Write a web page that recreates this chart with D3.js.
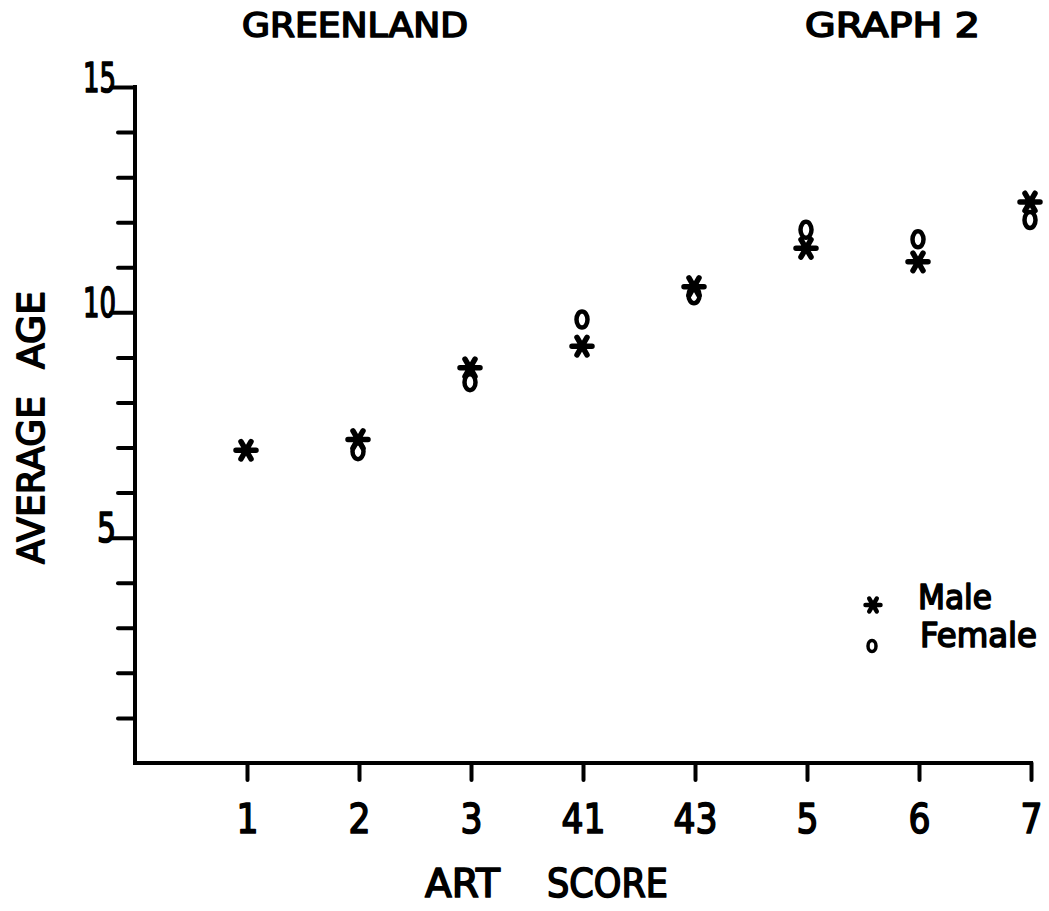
<!DOCTYPE html>
<html><head><meta charset="utf-8">
<script src="https://cdn.jsdelivr.net/npm/d3@7"></script>
<style>
body{margin:0;background:#fff;}
svg{display:block;background:#fff;}
.lbl{font-family:"DejaVu Sans",sans-serif;fill:#000;stroke:#000;stroke-width:1.7px;stroke-linejoin:round;}
</style></head><body>
<script>
// ---- data ----
const categories = ["1", "2", "3", "41", "43", "5", "6", "7"];
const maleAge    = [6.94, 7.18, 8.77, 9.25, 10.57, 11.42, 11.12, 12.45];
const femaleAge  = [null, 6.92, 8.45, 9.84, 10.38, 11.83, 11.62, 12.05];
const majorTicks = [5, 10, 15];
const minorTicks = [1, 2, 3, 4, 6, 7, 8, 9, 11, 12, 13, 14];
const seriesNames = ["Male", "Female"];
const titleText = "GREENLAND";
const graphText = "GRAPH 2";
const xTitleWords = ["ART", "SCORE"];
const yTitleWords = ["AVERAGE", "AGE"];

// ---- layout ----
const W = 1049, H = 911;
const plot = {left: 135, right: 1031, top: 87, bottom: 763};
const step = (plot.right - plot.left) / categories.length;

const svg = d3.select("body").append("svg").attr("width", W).attr("height", H);

const x = d3.scalePoint().domain(categories).range([plot.left + step, plot.right]);
const y = d3.scaleLinear().domain([0, 15]).range([plot.bottom, plot.top]);

function styleAxis(g) {
  g.attr("font-family", null).attr("font-size", null).attr("fill", null);
  g.select(".domain").remove();
  g.selectAll(".tick line").attr("stroke", "#000").attr("stroke-width", 4).attr("stroke-linecap", "round");
}

// x axis
const gx = svg.append("g").attr("transform", `translate(0,${plot.bottom})`)
  .call(d3.axisBottom(x).tickSize(17).tickSizeOuter(0));
styleAxis(gx);
gx.selectAll(".tick text").attr("class", "lbl").attr("font-size", 40)
  .attr("y", 70).attr("dy", 0).attr("text-anchor", "middle")
  .attr("textLength", d => d.length * 22).attr("lengthAdjust", "spacingAndGlyphs");

// y axis minor
const gyMinor = svg.append("g").attr("transform", `translate(${plot.left},0)`)
  .call(d3.axisLeft(y).tickValues(minorTicks).tickSize(17).tickFormat(""));
styleAxis(gyMinor);

// y axis major
const gyMajor = svg.append("g").attr("transform", `translate(${plot.left},0)`)
  .call(d3.axisLeft(y).tickValues(majorTicks).tickSize(24).tickFormat(d3.format("d")));
styleAxis(gyMajor);
gyMajor.selectAll(".tick text").attr("class", "lbl").attr("font-size", 41)
  .attr("x", -19).attr("dy", 4).attr("text-anchor", "end")
  .attr("textLength", d => String(d).length > 1 ? 33 : 19).attr("lengthAdjust", "spacingAndGlyphs");

// axis lines
svg.append("line").attr("x1", plot.left).attr("x2", plot.right)
  .attr("y1", plot.bottom).attr("y2", plot.bottom)
  .attr("stroke", "#000").attr("stroke-width", 4).attr("stroke-linecap", "square");
svg.append("line").attr("x1", plot.left).attr("x2", plot.left)
  .attr("y1", plot.top).attr("y2", plot.bottom)
  .attr("stroke", "#000").attr("stroke-width", 4).attr("stroke-linecap", "square");

// markers
function starPath(r) {
  let p = "";
  for (const a of [0, 60, 120]) {
    const rad = a * Math.PI / 180, dx = r * Math.cos(rad), dy = r * Math.sin(rad);
    p += `M${-dx},${-dy}L${dx},${dy}`;
  }
  return p;
}

const femalePts = categories.map((c, i) => ({c, v: femaleAge[i]})).filter(d => d.v != null);
const malePts = categories.map((c, i) => ({c, v: maleAge[i]})).filter(d => d.v != null);

svg.append("g").selectAll("ellipse").data(femalePts).join("ellipse")
  .attr("cx", d => x(d.c) - 1).attr("cy", d => y(d.v))
  .attr("rx", 5.5).attr("ry", 8)
  .attr("fill", "none").attr("stroke", "#000").attr("stroke-width", 4.5);

svg.append("g").selectAll("path").data(malePts).join("path")
  .attr("transform", d => `translate(${x(d.c) - 1},${y(d.v)})`)
  .attr("d", starPath(10))
  .attr("fill", "none").attr("stroke", "#000").attr("stroke-width", 5.5).attr("stroke-linecap", "round");

// legend
const leg = svg.append("g");
leg.append("path").attr("transform", "translate(873,605)").attr("d", starPath(7.5))
  .attr("fill", "none").attr("stroke", "#000").attr("stroke-width", 4.5).attr("stroke-linecap", "round");
leg.append("ellipse").attr("cx", 872).attr("cy", 646).attr("rx", 4).attr("ry", 5.5)
  .attr("fill", "none").attr("stroke", "#000").attr("stroke-width", 3.5);
leg.append("text").attr("class", "lbl").attr("x", 918).attr("y", 609).attr("font-size", 34)
  .attr("textLength", 74).attr("lengthAdjust", "spacingAndGlyphs").text(seriesNames[0]);
leg.append("text").attr("class", "lbl").attr("x", 920).attr("y", 647).attr("font-size", 34)
  .attr("textLength", 117).attr("lengthAdjust", "spacingAndGlyphs").text(seriesNames[1]);

// titles
function addText(txt, xx, yy, size, len, rot) {
  const t = svg.append("text").attr("class", "lbl").attr("font-size", size)
    .attr("textLength", len).attr("lengthAdjust", "spacingAndGlyphs").text(txt);
  if (rot) t.attr("transform", `translate(${xx},${yy}) rotate(-90)`);
  else t.attr("x", xx).attr("y", yy);
  return t;
}
addText(titleText, 242, 37, 34, 226);
addText(graphText, 805, 37, 34, 175);
addText(xTitleWords[0], 425, 897, 39, 75);
addText(xTitleWords[1], 547, 897, 39, 121);
addText(yTitleWords[0], 44, 564, 37, 168, true);
addText(yTitleWords[1], 44, 369, 37, 78, true);
</script>
</body></html>
